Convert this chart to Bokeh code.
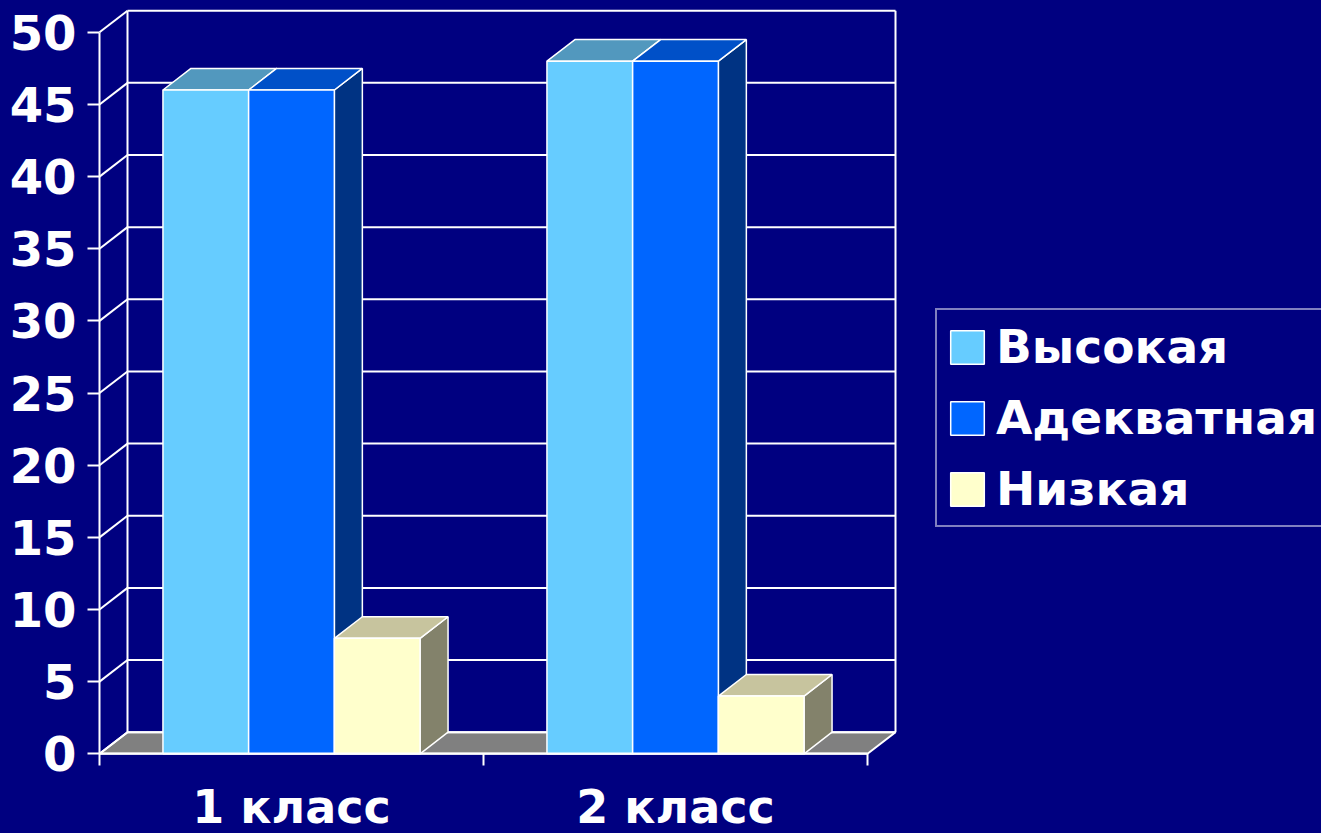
import numpy as np
from bokeh.plotting import figure
from bokeh.models import Range1d, FixedTicker, Legend, LegendItem, GlobalInlineStyleSheet
from bokeh.embed import file_html
from bokeh.resources import INLINE

# ---------------- data ----------------
categories = ["1 класс", "2 класс"]
series = ["Высокая", "Адекватная", "Низкая"]
vysokaya = [46, 48]
adekvatnaya = [46, 48]
nizkaya = [8, 4]
y_ticks = [0, 5, 10, 15, 20, 25, 30, 35, 40, 45, 50]

values = [vysokaya, adekvatnaya, nizkaya]

# ---------------- styling ----------------
BG = "#000080"
front_colors = ["#66CCFF", "#0066FF", "#FFFFCC"]
top_colors = ["#5298BE", "#0050C8", "#C7C49E"]
side_colors = ["#336680", "#003383", "#83826B"]
FLOOR = "#808080"
FONT = "DejaVu Sans"

W, H = 1321, 833
# pixel anchors (canvas coords) used to set the data ranges
X0_PX, X_PER_UNIT = 99.0, 384.0        # x=0 at canvas px 99
Y0_PX, Y_PER_UNIT = 753.3, 14.43       # y=0 at canvas px 753.3 (from top)
x_start = -X0_PX / X_PER_UNIT
x_end = (W - X0_PX) / X_PER_UNIT
y_end = Y0_PX / Y_PER_UNIT
y_start = -(H - Y0_PX) / Y_PER_UNIT

DX = 28.0 / X_PER_UNIT     # 3-D depth offset (x)
DY = 21.6 / Y_PER_UNIT     # 3-D depth offset (y)
BW = 85.7 / X_PER_UNIT     # bar width
n_cat = len(categories)
y_max = y_ticks[-1]

p = figure(width=W, height=H, output_backend="svg", toolbar_location=None, title=None,
           x_range=Range1d(x_start, x_end), y_range=Range1d(y_start, y_end),
           min_border=0, background_fill_color=BG, border_fill_color=BG,
           outline_line_color=None)
p.grid.visible = False
p.stylesheets = [GlobalInlineStyleSheet(css="html, body { background-color: #000080; }")]

# ---------------- floor ----------------
p.patch([0, n_cat, n_cat + DX, DX], [0, 0, DY, DY], fill_color=FLOOR, line_color="white",
        line_width=2)

# ---------------- walls / grid ----------------
back_xs = [[DX, n_cat + DX] for _ in y_ticks]
back_ys = [[v + DY, v + DY] for v in y_ticks]
diag_xs = [[0, DX] for _ in y_ticks]
diag_ys = [[v, v + DY] for v in y_ticks]
edge_xs = [[DX, DX], [n_cat + DX, n_cat + DX]]
edge_ys = [[DY, y_max + DY], [DY, y_max + DY]]
p.multi_line(back_xs + diag_xs + edge_xs, back_ys + diag_ys + edge_ys,
             line_color="white", line_width=2)

# ---------------- 3-D bars ----------------
front_renderers = []
for j, vals in enumerate(values):
    centers = [i + 0.5 + (j - 1) * BW for i in range(n_cat)]
    lefts = [c - BW / 2 for c in centers]
    rights = [c + BW / 2 for c in centers]
    side_xs = [[r, r + DX, r + DX, r] for r in rights]
    side_ys = [[0, DY, v + DY, v] for v in vals]
    p.patches(side_xs, side_ys, fill_color=side_colors[j], line_color="white", line_width=1.5)
    top_xs = [[l, r, r + DX, l + DX] for l, r in zip(lefts, rights)]
    top_ys = [[v, v, v + DY, v + DY] for v in vals]
    p.patches(top_xs, top_ys, fill_color=top_colors[j], line_color="white", line_width=1.5)
    fr = p.vbar(x=centers, width=BW, top=vals, bottom=0, fill_color=front_colors[j],
                line_color="white", line_width=1.5)
    front_renderers.append(fr)

# ---------------- axes ----------------
xa = p.xaxis[0]
xa.fixed_location = 0
xa.bounds = (0, n_cat)
xa.ticker = FixedTicker(ticks=[i + 0.5 for i in range(n_cat)], minor_ticks=list(range(n_cat + 1)))
xa.major_label_overrides = {i + 0.5: c for i, c in enumerate(categories)}
xa.axis_line_color = "white"
xa.axis_line_width = 2
xa.major_tick_out = 0
xa.major_tick_in = 0
xa.minor_tick_out = 12
xa.minor_tick_in = 0
xa.minor_tick_line_color = "white"
xa.minor_tick_line_width = 2
xa.major_label_text_color = "white"
xa.major_label_text_font = FONT
xa.major_label_text_font_style = "bold"
xa.major_label_text_font_size = "46px"
xa.major_label_standoff = 14

ya = p.yaxis[0]
ya.fixed_location = 0
ya.bounds = (0, y_max)
ya.ticker = FixedTicker(ticks=y_ticks, minor_ticks=[])
ya.axis_line_color = "white"
ya.axis_line_width = 2
ya.major_tick_out = 12
ya.major_tick_in = 0
ya.major_tick_line_color = "white"
ya.major_tick_line_width = 2
ya.minor_tick_out = 0
ya.minor_tick_in = 0
ya.major_label_text_color = "white"
ya.major_label_text_font = FONT
ya.major_label_text_font_style = "bold"
ya.major_label_text_font_size = "48px"
ya.major_label_standoff = 11

# ---------------- legend ----------------
legend = Legend(items=[LegendItem(label=s, renderers=[r]) for s, r in zip(series, front_renderers)],
                location=(935, 306), margin=0, padding=9, spacing=16,
                glyph_width=42, glyph_height=42, label_standoff=8,
                label_text_font=FONT, label_text_font_style="bold", label_text_font_size="47px",
                label_text_color="white", border_line_color="white", border_line_width=2,
                background_fill_color=BG, background_fill_alpha=1.0)
p.add_layout(legend)

open("out.html", "w").write(file_html(p, INLINE))
